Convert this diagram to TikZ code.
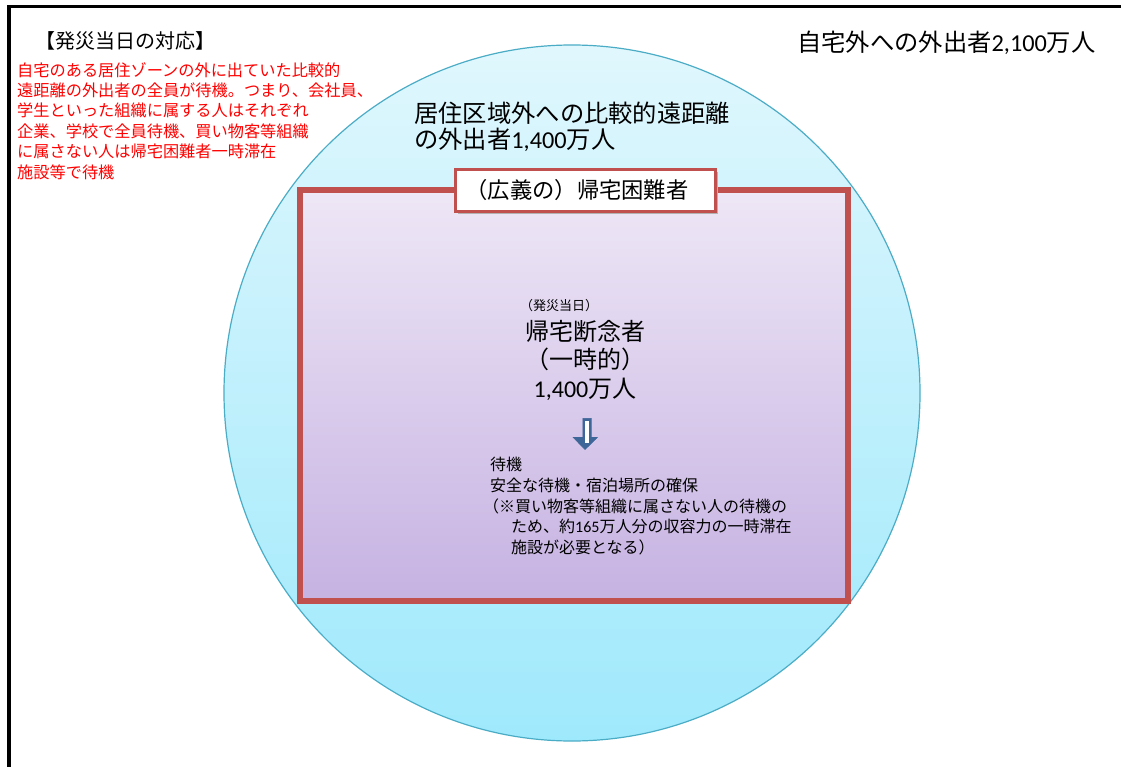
\documentclass[tikz,border=0pt]{standalone}
\usepackage{fontspec}
\setmainfont{Noto Sans CJK JP}
\newfontfamily\lat{Carlito}
\definecolor{circtop}{HTML}{E0F7FD}
\definecolor{circbot}{HTML}{9FE9FC}
\definecolor{circline}{HTML}{4BACC6}
\definecolor{recttop}{HTML}{EEE7F6}
\definecolor{rectbot}{HTML}{C6B2E2}
\definecolor{boxred}{HTML}{C0504D}
\definecolor{arrowblue}{HTML}{3E6698}
\tikzset{
  txt/.style={inner sep=0pt, align=left, anchor=north west},
  redtxt/.style={txt, text=red, font=\fontsize{16.2}{20.4}\selectfont},
  bigtxt/.style={txt, font=\fontsize{24.3}{26}\selectfont},
  labelbox/.style={draw=boxred, line width=3pt, fill=white, minimum width=260pt,
    minimum height=42pt, inner xsep=4pt, text width=252pt, align=left,
    font=\fontsize{22.3}{24}\selectfont},
}
\begin{document}
\begin{tikzpicture}[x=1pt,y=-1pt]
\useasboundingbox (0,0) rectangle (1121,767);
\fill[white] (0,0) rectangle (1121,767);
% frame
\draw[line width=3.3pt] (9,767) -- (9,6.7) -- (1121,6.7);
% big circle
\shade[top color=circtop, bottom color=circbot] (572,393) circle [radius=348];
\draw[circline, line width=1.2pt] (572,393) circle [radius=348];
% inner rectangle
\shade[top color=recttop, bottom color=rectbot] (299.5,190.5) rectangle (848,601);
\draw[boxred, line width=6pt] (299.5,190.5) rectangle (848,601);
% label box shadow and box
\fill[black!30] (458,172) rectangle (718,214);
\node[labelbox] (lbl) at (585.5,190.5) {\hspace*{6pt}（広義の）帰宅困難者};
% texts
\node[txt, font=\fontsize{20}{22}\selectfont] (head) at (35,31.5) {【発災当日の対応】};
\node[redtxt] (redpar) at (17,62) {自宅のある居住ゾーンの外に出ていた比較的\\
遠距離の外出者の全員が待機。つまり、会社員、\\
学生といった組織に属する人はそれぞれ\\
企業、学校で全員待機、買い物客等組織\\
に属さない人は帰宅困難者一時滞在\\
施設等で待機};
\node[bigtxt] (total) at (797,31) {自宅外への外出者{\lat 2,100}万人};
\node[bigtxt] (far) at (414,102) {居住区域外への比較的遠距離\\の外出者{\lat 1,400}万人};
\node[txt, font=\fontsize{13}{15}\selectfont] (day) at (520,299) {（発災当日）};
\node[inner sep=0pt, align=center, anchor=north, font=\fontsize{24}{28.5}\selectfont] (give) at (585,320) {帰宅断念者\\（一時的）\\{\lat 1,400}万人};
% arrow
\filldraw[arrowblue, line width=0.6pt] (582.8,418.3) -- (591.2,418.3) -- (591.2,437.5) -- (597.3,437.5)
  -- (585,449.5) -- (573.3,437.5) -- (582.8,437.5) -- cycle;
\fill[white] (585,421) rectangle (589,443);
\node[txt, font=\fontsize{16}{20.7}\selectfont] (wait) at (490,457) {待機\\
安全な待機・宿泊場所の確保\\
\hspace*{-7pt}（※買い物客等組織に属さない人の待機の\\
\hspace*{21pt}ため、約{\lat 165}万人分の収容力の一時滞在\\
\hspace*{21pt}施設が必要となる）};
\end{tikzpicture}
\end{document}
